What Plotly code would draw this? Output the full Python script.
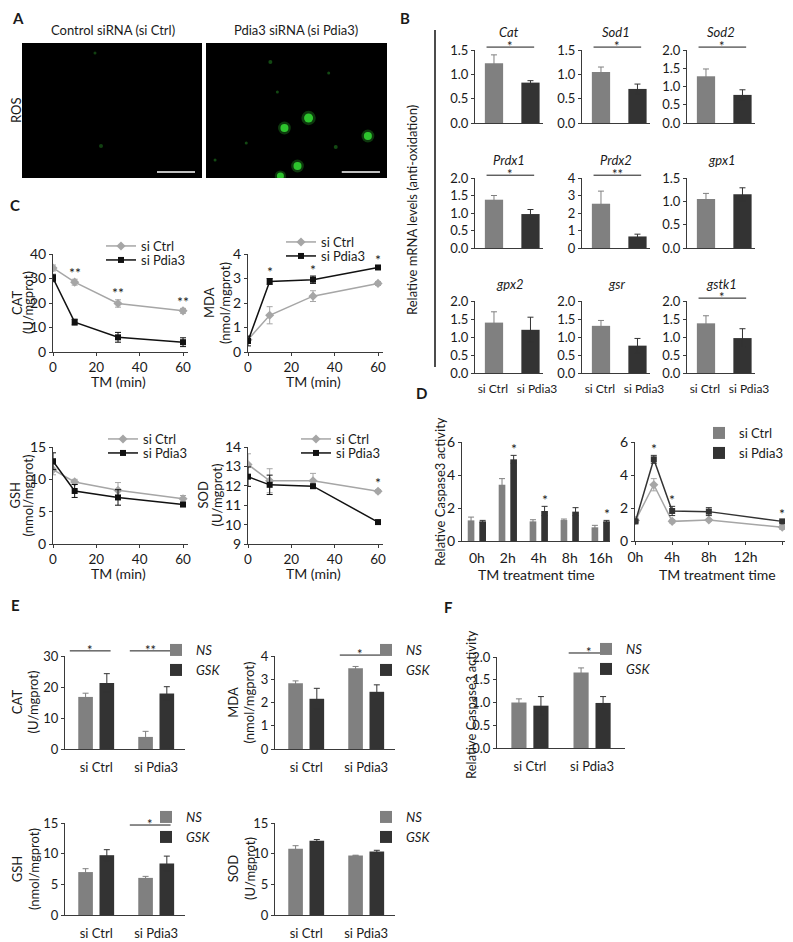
import plotly.graph_objects as go

# page has an 8 px body margin, so the figure is drawn 8 px in from the top-left
OFF = 8
FW, FH = 793 - OFF, 942 - OFF
FONT = 'Lato'
INK = '#1a1a1a'
AXC = '#3a3a3a'
GREY = '#808080'
DARK = '#333333'
LIGHT = '#a6a6a6'
BLACK = '#111111'

# ---------- A: ROS staining, spot positions in image pixels (180 x 135 field) ----------
ros_ctrl_x = [79, 73]
ros_ctrl_y = [103, 10]
ros_ctrl_s = [4, 3]
ros_bright_x = [102, 78, 161, 91, 74]
ros_bright_y = [75, 85, 93, 123, 133]
ros_bright_s = [9, 8, 8, 8, 7]
ros_faint_x = [64, 129, 71, 9, 122, 40]
ros_faint_y = [19, 104, 49, 117, 30, 100]
ros_faint_s = [4, 4, 3, 3, 3, 3]

# ---------- B: relative mRNA levels ----------
genes = ['Cat', 'Sod1', 'Sod2', 'Prdx1', 'Prdx2', 'gpx1', 'gpx2', 'gsr', 'gstk1']
sirna = ['si Ctrl', 'si Pdia3']
mrna_ctrl = [1.23, 1.05, 1.28, 1.38, 2.53, 1.05, 1.40, 1.31, 1.38]
mrna_ctrl_err = [0.17, 0.10, 0.20, 0.12, 0.72, 0.12, 0.30, 0.15, 0.21]
mrna_pdia3 = [0.83, 0.70, 0.77, 0.97, 0.66, 1.15, 1.20, 0.76, 0.97]
mrna_pdia3_err = [0.04, 0.10, 0.14, 0.13, 0.13, 0.14, 0.35, 0.20, 0.26]
mrna_ymax = [1.5, 1.5, 2, 2, 4, 1.5, 2, 2, 2]
mrna_dtick = [0.5, 0.5, 0.5, 0.5, 1, 0.5, 0.5, 0.5, 0.5]
mrna_sig = ['*', '*', '*', '*', '**', '', '', '', '*']

# ---------- C: oxidative markers vs TM time ----------
tm_min = [0, 10, 30, 60]
c_names = ['CAT', 'MDA', 'GSH', 'SOD']
c_units = ['(U/mgprot)', '(nmol/mgprot)', '(nmol/mgprot)', '(U/mgprot)']
c_ctrl = [[34.3, 28.5, 19.8, 16.8], [0.50, 1.50, 2.28, 2.80],
          [11.5, 9.6, 8.3, 7.0], [13.10, 12.26, 12.26, 11.72]]
c_ctrl_err = [[1.2, 1.2, 1.5, 1.0], [0.10, 0.35, 0.22, 0.08],
              [0.8, 0.4, 1.2, 0.5], [0.55, 0.62, 0.38, 0.08]]
c_pdia3 = [[30.2, 12.2, 6.0, 4.0], [0.45, 2.88, 2.95, 3.45],
           [12.8, 8.2, 7.2, 6.1], [12.47, 12.05, 11.98, 10.13]]
c_pdia3_err = [[1.5, 1.2, 2.0, 1.8], [0.20, 0.12, 0.15, 0.05],
               [1.3, 1.0, 1.2, 0.3], [0.50, 0.50, 0.05, 0.05]]
c_yrange = [[0, 40], [0, 4], [0, 15], [9, 14]]
c_dtick = [10, 1, 5, 1]
c_sig = [['', '**', '**', '**'], ['', '*', '*', '*'], ['', '', '', ''], ['', '', '', '*']]

# ---------- D: caspase3 activity vs TM time ----------
hours = ['0h', '2h', '4h', '8h', '16h']
hours_num = [0, 2, 4, 8, 16]
casp_ctrl = [1.25, 3.41, 1.19, 1.27, 0.83]
casp_ctrl_err = [0.20, 0.37, 0.10, 0.06, 0.12]
casp_pdia3 = [1.19, 4.95, 1.82, 1.78, 1.19]
casp_pdia3_err = [0.06, 0.24, 0.28, 0.24, 0.06]
casp_sig = ['', '*', '*', '', '*']
hour_ticks = [0, 4, 8, 12, 16]
hour_ticktext = ['0h', '4h', '8h', '12h', '16h']

# ---------- E / F: NS vs GSK ----------
e_names = ['CAT', 'MDA', 'GSH', 'SOD']
e_units = ['(U/mgprot)', '(nmol/mgprot)', '(nmol/mgprot)', '(U/mgprot)']
e_ns = [[16.8, 3.9], [2.83, 3.47], [7.0, 6.05], [10.8, 9.7]]
e_ns_err = [[1.2, 1.8], [0.10, 0.08], [0.55, 0.25], [0.5, 0.05]]
e_gsk = [[21.3, 17.9], [2.16, 2.46], [9.75, 8.4], [12.1, 10.35]]
e_gsk_err = [[3.0, 2.2], [0.45, 0.30], [0.9, 1.2], [0.2, 0.2]]
e_ymax = [30, 4, 15, 15]
e_dtick = [10, 1, 5, 5]
e_sig = [[(0, '*'), (1, '**')], [(1, '*')], [(1, '*')], []]
f_ns = [1.0, 1.66]
f_ns_err = [0.08, 0.10]
f_gsk = [0.93, 0.99]
f_gsk_err = [0.20, 0.14]
f_sig = [(1, '*')]

fig = go.Figure()


def PX(x):
    return (x - OFF) / FW


def PY(y):
    return 1 - (y - OFF) / FH


def axes(n, xs, ys, xa, ya):
    s = '' if n == 1 else str(n)
    fig.update_layout({
        f'xaxis{s}': dict(domain=[PX(xs[0]), PX(xs[1])], anchor=f'y{s}', automargin=False, **xa),
        f'yaxis{s}': dict(domain=[PY(ys[1]), PY(ys[0])], anchor=f'x{s}', automargin=False, **ya),
    })
    return f'x{s}', f'y{s}'


def base(**kw):
    d = dict(showgrid=False, zeroline=False, showline=True, linecolor=AXC, linewidth=1,
             tickfont=dict(family=FONT, size=13, color=INK), ticks='outside', ticklen=3,
             tickcolor=AXC, fixedrange=True)
    d.update(kw)
    return d


def text(x, y, t, size=13, angle=0, bold=False):
    if bold:
        t = f'<b>{t}</b>'
    fig.add_annotation(x=PX(x), y=PY(y), xref='paper', yref='paper', text=t, showarrow=False,
                       xanchor='center', yanchor='middle', textangle=angle,
                       font=dict(family=FONT, size=size, color=INK))


leg_n = [0]


def legend_at(tx, ty):
    leg_n[0] += 1
    name = 'legend' if leg_n[0] == 1 else f'legend{leg_n[0]}'
    fig.update_layout({name: dict(x=PX(tx - 44), y=PY(ty), xanchor='left', yanchor='middle',
                                  bgcolor='rgba(0,0,0,0)', borderwidth=0, itemwidth=30,
                                  font=dict(family=FONT, size=13, color=INK))})
    return name


def sig_mark(xr, yr, cx, half, ydom, label):
    fig.add_shape(type='line', xref=f'{xr} domain', yref=f'{yr} domain', x0=cx - half, x1=cx + half,
                  y0=ydom, y1=ydom, line=dict(color=INK, width=1))
    fig.add_annotation(xref=f'{xr} domain', yref=f'{yr} domain', x=cx, y=ydom, text=label,
                       showarrow=False, xanchor='center', yanchor='middle', yshift=1,
                       font=dict(family=FONT, size=13, color=INK))


def err(arr, color):
    return dict(type='data', array=arr, color=color, thickness=1, width=3)


def star(xr, yr, x, y, label):
    fig.add_annotation(xref=xr, yref=yr, x=x, y=y, text=label, showarrow=False,
                       xanchor='center', yanchor='middle', yshift=7,
                       font=dict(family=FONT, size=14, color=INK))


# ================= A =================
text(18, 18, 'A', size=15, bold=True)
text(113, 30, 'Control siRNA (si Ctrl)')
text(296, 30, 'Pdia3 siRNA (si Pdia3)')
text(16, 110, 'ROS', angle=-90)
scalebar = (135, 173, 129)
for n, xs in ((1, (22, 202)), (2, (206, 387))):
    xr, yr = axes(n, xs, (43, 178), dict(visible=False, range=[0, 180], fixedrange=True),
                  dict(visible=False, range=[135, 0], fixedrange=True))
    fig.add_shape(type='rect', xref=f'{xr} domain', yref=f'{yr} domain', x0=0, x1=1, y0=0, y1=1,
                  fillcolor='black', line_width=0, layer='below')
    fig.add_shape(type='line', xref=xr, yref=yr, x0=scalebar[0], x1=scalebar[1],
                  y0=scalebar[2], y1=scalebar[2], line=dict(color='white', width=1.5))

fig.add_trace(go.Scatter(x=ros_ctrl_x, y=ros_ctrl_y, mode='markers', xaxis='x', yaxis='y',
                         marker=dict(size=ros_ctrl_s, color='#1d6b1d', opacity=0.6, line_width=0),
                         showlegend=False, hoverinfo='skip'))
fig.add_trace(go.Scatter(x=ros_faint_x, y=ros_faint_y, mode='markers', xaxis='x2', yaxis='y2',
                         marker=dict(size=ros_faint_s, color='#1f7a1f', opacity=0.6, line_width=0),
                         showlegend=False, hoverinfo='skip'))
fig.add_trace(go.Scatter(x=ros_bright_x, y=ros_bright_y, mode='markers', xaxis='x2', yaxis='y2',
                         marker=dict(size=[s * 1.6 for s in ros_bright_s], color='#3cff3c', opacity=0.22,
                                     line_width=0),
                         showlegend=False, hoverinfo='skip'))
fig.add_trace(go.Scatter(x=ros_bright_x, y=ros_bright_y, mode='markers', xaxis='x2', yaxis='y2',
                         marker=dict(size=ros_bright_s, color='#3cff3c', line_width=0),
                         showlegend=False, hoverinfo='skip'))

# ================= B =================
text(405, 18, 'B', size=15, bold=True)
text(412, 210, 'Relative mRNA levels (anti-oxidation)', angle=-90)
fig.add_shape(type='line', xref='paper', yref='paper', x0=PX(435), x1=PX(435), y0=PY(30),
              y1=PY(367), line=dict(color=BLACK, width=1.5))
b_cols = [(475, 543), (582, 650), (687, 755)]
b_rows = [(50, 123), (178, 248), (301, 373)]
b_title_y = [32, 160, 284]
for i, g in enumerate(genes):
    r, c = divmod(i, 3)
    n = 3 + i
    fmt = '.1f' if mrna_dtick[i] < 1 else 'd'
    xr, yr = axes(n, b_cols[c], b_rows[r],
                  base(type='category', range=[-0.52, 1.343], ticks='', showticklabels=(r == 2),
                       tickmode='array', tickvals=[-0.03, 1.18], ticktext=sirna,
                       tickangle=0, ticklabelstandoff=5, tickfont=dict(family=FONT, size=12, color=INK)),
                  base(range=[0, mrna_ymax[i]], dtick=mrna_dtick[i], tickformat=fmt))
    fig.add_trace(go.Bar(x=sirna[:1], y=[mrna_ctrl[i]], xaxis=xr, yaxis=yr, width=0.5,
                         marker=dict(color=GREY, line_width=0), error_y=err([mrna_ctrl_err[i]], GREY),
                         showlegend=False))
    fig.add_trace(go.Bar(x=sirna[1:], y=[mrna_pdia3[i]], xaxis=xr, yaxis=yr, width=0.5,
                         marker=dict(color=DARK, line_width=0), error_y=err([mrna_pdia3_err[i]], DARK),
                         showlegend=False))
    fig.add_annotation(xref=f'{xr} domain', yref='paper', x=0.5, y=PY(b_title_y[r]),
                       text=f'<i>{g}</i>', showarrow=False, xanchor='center', yanchor='middle',
                       font=dict(family=FONT, size=13, color=INK))
    if mrna_sig[i]:
        sig_mark(xr, yr, 0.52, 0.35, 1.04, mrna_sig[i])

# ================= C =================
text(15, 205, 'C', size=15, bold=True)
c_cols = [(53, 188), (248, 383)]
c_rows = [(254, 352), (447, 544)]
c_ytitle_x = [(17, 28), (209, 225), (14, 27), (202, 216)]
c_leg = [[(145, 246, 260), (325, 242, 256)], [(147, 439, 453), (340, 439, 453)]]
for i, nm in enumerate(c_names):
    r, c = divmod(i, 2)
    n = 12 + i
    xr, yr = axes(n, c_cols[c], c_rows[r],
                  base(range=[0, 62.3], tickvals=[0, 20, 40, 60], tickfont=dict(family=FONT, size=13.5, color=INK)),
                  base(range=c_yrange[i], dtick=c_dtick[i], tickfont=dict(family=FONT, size=14, color=INK)))
    lx, ly1, ly2 = c_leg[r][c]
    fig.add_trace(go.Scatter(x=tm_min, y=c_ctrl[i], xaxis=xr, yaxis=yr, mode='lines+markers', name='si Ctrl',
                             line=dict(color=LIGHT, width=1.5),
                             marker=dict(symbol='diamond', size=7, color=LIGHT),
                             error_y=err(c_ctrl_err[i], LIGHT), legend=legend_at(lx, ly1)))
    fig.add_trace(go.Scatter(x=tm_min, y=c_pdia3[i], xaxis=xr, yaxis=yr, mode='lines+markers', name='si Pdia3',
                             line=dict(color=BLACK, width=1.5),
                             marker=dict(symbol='square', size=6, color=BLACK),
                             error_y=err(c_pdia3_err[i], BLACK), legend=legend_at(lx, ly2)))
    for j, s in enumerate(c_sig[i]):
        if s:
            top = max(c_ctrl[i][j] + c_ctrl_err[i][j], c_pdia3[i][j] + c_pdia3_err[i][j])
            star(xr, yr, tm_min[j], top, s)
    yc = (c_rows[r][0] + c_rows[r][1]) / 2
    text(c_ytitle_x[i][0], yc, nm, angle=-90)
    text(c_ytitle_x[i][1], yc, c_units[i], angle=-90)
    text((c_cols[c][0] + c_cols[c][1]) / 2 - 2, c_rows[r][1] + 29, 'TM (min)', size=14)

# ================= D =================
text(421, 393, 'D', size=15, bold=True)
text(440, 492, 'Relative Caspase3 activity', angle=-90)
xr, yr = axes(16, (462, 610), (442, 541),
              base(type='category', range=[-0.48, 4.3], ticks='', ticklabelstandoff=4, tickangle=0,
                   tickfont=dict(family=FONT, size=14, color=INK)),
              base(range=[0, 6], dtick=2, tickfont=dict(family=FONT, size=14, color=INK)))
fig.add_trace(go.Bar(x=hours, y=casp_ctrl, xaxis=xr, yaxis=yr, name='si Ctrl', width=0.215, offset=-0.295,
                     marker=dict(color=GREY, line_width=0), error_y=err(casp_ctrl_err, GREY),
                     legend=legend_at(743, 433)))
fig.add_trace(go.Bar(x=hours, y=casp_pdia3, xaxis=xr, yaxis=yr, name='si Pdia3', width=0.215, offset=0.08,
                     marker=dict(color=DARK, line_width=0), error_y=err(casp_pdia3_err, DARK),
                     legend=legend_at(743, 453)))
for j, s in enumerate(casp_sig):
    if s:
        star(xr, yr, j + 0.19, casp_pdia3[j] + casp_pdia3_err[j], s)
text(536, 574, 'TM treatment time', size=14)

xr, yr = axes(17, (635, 785), (442, 541),
              base(range=[-0.05, 16.3], tickvals=hour_ticks, ticktext=hour_ticktext,
                   tickfont=dict(family=FONT, size=14, color=INK)),
              base(range=[0, 6], dtick=2, tickfont=dict(family=FONT, size=14, color=INK)))
fig.add_trace(go.Scatter(x=hours_num, y=casp_ctrl, xaxis=xr, yaxis=yr, mode='lines+markers',
                         line=dict(color=LIGHT, width=1.5), marker=dict(symbol='diamond', size=7, color=LIGHT),
                         error_y=err(casp_ctrl_err, LIGHT), showlegend=False))
fig.add_trace(go.Scatter(x=hours_num, y=casp_pdia3, xaxis=xr, yaxis=yr, mode='lines+markers',
                         line=dict(color=DARK, width=1.5), marker=dict(symbol='square', size=6, color=DARK),
                         error_y=err(casp_pdia3_err, DARK), showlegend=False))
for j, s in enumerate(casp_sig):
    if s:
        star(xr, yr, hours_num[j], casp_pdia3[j] + casp_pdia3_err[j], s)
text(717, 574, 'TM treatment time', size=14)

# ================= E =================
text(15, 605, 'E', size=15, bold=True)
e_cols = [(65, 185), (275, 395)]
e_rows = [(656, 749), (823, 915)]
e_ytitle_x = [25, 241]
e_leg = [[(200, 650, 670), (410, 650, 670)], [(190, 817, 837), (410, 817, 837)]]
e_sig_y = [[1.055, 1.01], [0.978, 1.0]]
for i, nm in enumerate(e_names):
    r, c = divmod(i, 2)
    n = 18 + i
    xr, yr = axes(n, e_cols[c], e_rows[r],
                  base(type='category', range=[-0.52, 1.48], ticks='', ticklabelstandoff=6, tickangle=0),
                  base(range=[0, e_ymax[i]], dtick=e_dtick[i]))
    lx, ly1, ly2 = e_leg[r][c]
    fig.add_trace(go.Bar(x=sirna, y=e_ns[i], xaxis=xr, yaxis=yr, name='<i>NS</i>', width=0.244, offset=-0.299,
                         marker=dict(color=GREY, line_width=0), error_y=err(e_ns_err[i], GREY),
                         legend=legend_at(lx, ly1)))
    fig.add_trace(go.Bar(x=sirna, y=e_gsk[i], xaxis=xr, yaxis=yr, name='<i>GSK</i>', width=0.244, offset=0.055,
                         marker=dict(color=DARK, line_width=0), error_y=err(e_gsk_err[i], DARK),
                         legend=legend_at(lx, ly2)))
    for g, s in e_sig[i]:
        sig_mark(xr, yr, 0.21 + 0.5 * g, 0.17, e_sig_y[r][c], s)
    yc = (e_rows[r][0] + e_rows[r][1]) / 2
    text(e_ytitle_x[c], yc, f'{nm}<br>{e_units[i]}', angle=-90)

# ================= F =================
text(448, 607, 'F', size=15, bold=True)
text(471, 705, 'Relative Caspase3 activity', angle=-90)
xr, yr = axes(22, (497, 625), (657, 748),
              base(type='category', range=[-0.53, 1.53], ticks='', ticklabelstandoff=6, tickangle=0),
              base(range=[0, 2], dtick=0.5, tickformat='.1f'))
fig.add_trace(go.Bar(x=sirna, y=f_ns, xaxis=xr, yaxis=yr, name='<i>NS</i>', width=0.244, offset=-0.299,
                     marker=dict(color=GREY, line_width=0), error_y=err(f_ns_err, GREY),
                     legend=legend_at(630, 649)))
fig.add_trace(go.Bar(x=sirna, y=f_gsk, xaxis=xr, yaxis=yr, name='<i>GSK</i>', width=0.244, offset=0.055,
                     marker=dict(color=DARK, line_width=0), error_y=err(f_gsk_err, DARK),
                     legend=legend_at(630, 669)))
for g, s in f_sig:
    sig_mark(xr, yr, 0.215 + 0.5 * g, 0.155, 1.044, s)

fig.update_layout(template='none', width=FW, height=FH, margin=dict(l=0, r=0, t=0, b=0, pad=0),
                  barmode='overlay', plot_bgcolor='rgba(0,0,0,0)', paper_bgcolor='white',
                  font=dict(family=FONT, size=13, color=INK))
fig.write_html('out.html')
